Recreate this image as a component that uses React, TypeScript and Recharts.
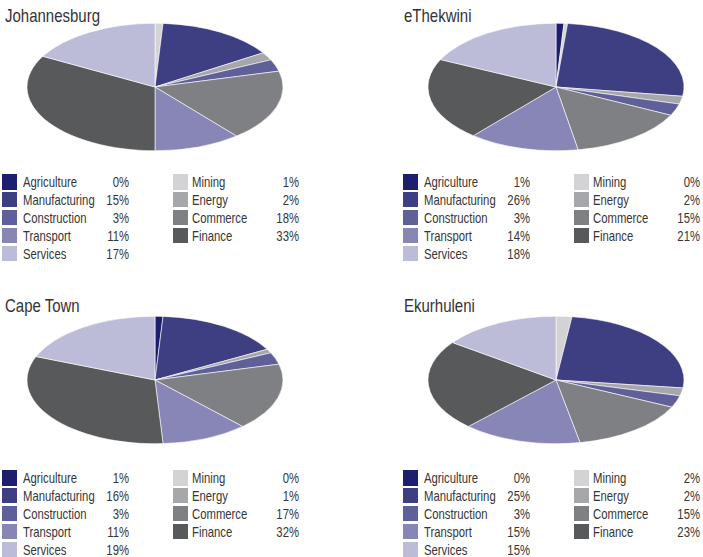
import React from 'react';
import { PieChart, Pie, Cell } from 'recharts';

// Pie order (clockwise from 12 o'clock)
const sectors = ['Agriculture', 'Mining', 'Manufacturing', 'Energy', 'Construction', 'Commerce', 'Transport', 'Finance', 'Services'];
const sectorColors = ['#1d1e6d', '#d3d3d5', '#3e3f82', '#a6a7aa', '#5f5f99', '#7f8083', '#8886b6', '#58595b', '#bcbcd8'];

// Legend columns
const legendCol1 = ['Agriculture', 'Manufacturing', 'Construction', 'Transport', 'Services'];
const legendCol2 = ['Mining', 'Energy', 'Commerce', 'Finance'];

const cities = ['Johannesburg', 'eThekwini', 'Cape Town', 'Ekurhuleni'];

// values in pie order
const johannesburg = [0, 1, 15, 2, 3, 18, 11, 33, 17];
const eThekwini = [1, 0.45, 26, 2, 3, 15, 14, 21, 18];
const capeTown = [1, 0, 16, 1, 3, 17, 11, 32, 19];
const ekurhuleni = [0, 2, 25, 2, 3, 15, 15, 23, 15];

const cityValues = [johannesburg, eThekwini, capeTown, ekurhuleni];

const FONT = "'Liberation Sans', Arial, sans-serif";
const R = 128;
const SQUASH = 0.498;
const NARROW = 0.78;

type Layout = {
  left: number; top: number; legendY: number; titleX: number; titleY: number;
};
const panels: Layout[] = [
  { left: 0, top: 0, legendY: 182, titleX: 5, titleY: 5 },
  { left: 401, top: 0, legendY: 182, titleX: 3, titleY: 5 },
  { left: 0, top: 293, legendY: 185, titleX: 5, titleY: 2 },
  { left: 401, top: 293, legendY: 185, titleX: 3, titleY: 2 },
];

const textBase: React.CSSProperties = {
  position: 'absolute',
  fontSize: 14.5,
  lineHeight: '18px',
  color: '#363638',
  whiteSpace: 'nowrap',
};

function CityPanel({ name, values, layout }: { name: string; values: number[]; layout: Layout }) {
  const data = sectors.map((s, i) => ({ name: s, value: values[i], color: sectorColors[i] }));
  const pctOf = (s: string) => Math.round(values[sectors.indexOf(s)]) + '%';
  const colorOf = (s: string) => sectorColors[sectors.indexOf(s)];
  const pieCx = 155;
  const pieCy = 86.5;
  const W = 310;
  const H = 260;
  const rowY = (i: number) => layout.legendY + i * 17.9;

  const renderCol = (items: string[], swX: number, labelX: number, pctRight: number) =>
    items.map((s, i) => (
      <React.Fragment key={s}>
        <div style={{ position: 'absolute', left: swX, top: rowY(i) - 8, width: 15, height: 15.5, background: colorOf(s) }} />
        <div style={{ ...textBase, left: labelX, top: rowY(i) - 9, transform: `scaleX(${NARROW})`, transformOrigin: 'left center' }}>{s}</div>
        <div style={{ ...textBase, left: pctRight - 40, width: 40, textAlign: 'right', top: rowY(i) - 9, transform: `scaleX(${NARROW})`, transformOrigin: 'right center' }}>{pctOf(s)}</div>
      </React.Fragment>
    ));

  return (
    <div style={{ position: 'absolute', left: layout.left, top: layout.top, width: 302, height: 264 }}>
      <div
        style={{
          position: 'absolute',
          left: pieCx - W / 2,
          top: pieCy - H / 2,
          width: W,
          height: H,
          transform: `scaleY(${SQUASH})`,
          transformOrigin: `${W / 2}px ${H / 2}px`,
        }}
      >
        <PieChart width={W} height={H} margin={{ top: 0, right: 0, bottom: 0, left: 0 }}>
          <Pie
            data={data}
            dataKey="value"
            nameKey="name"
            cx={W / 2}
            cy={H / 2}
            outerRadius={R}
            innerRadius={0}
            startAngle={90}
            endAngle={-270}
            stroke="#ffffff"
            strokeWidth={0.8}
            isAnimationActive={false}
          >
            {data.map((d) => (
              <Cell key={d.name} fill={d.color} />
            ))}
          </Pie>
        </PieChart>
      </div>
      <div style={{ position: 'absolute', left: layout.titleX, top: layout.titleY, fontSize: 18.5, lineHeight: '22px', color: '#333335', whiteSpace: 'nowrap', transform: `scaleX(0.81)`, transformOrigin: 'left center' }}>{name}</div>
      {renderCol(legendCol1, 2, 23, 129)}
      {renderCol(legendCol2, 173, 192, 299)}
    </div>
  );
}

export default function App() {
  return (
    <div style={{ position: 'absolute', left: 0, top: 0, width: 703, height: 557, background: '#ffffff', fontFamily: FONT, overflow: 'hidden' }}>
      {cities.map((c, i) => (
        <CityPanel key={c} name={c} values={cityValues[i]} layout={panels[i]} />
      ))}
    </div>
  );
}
